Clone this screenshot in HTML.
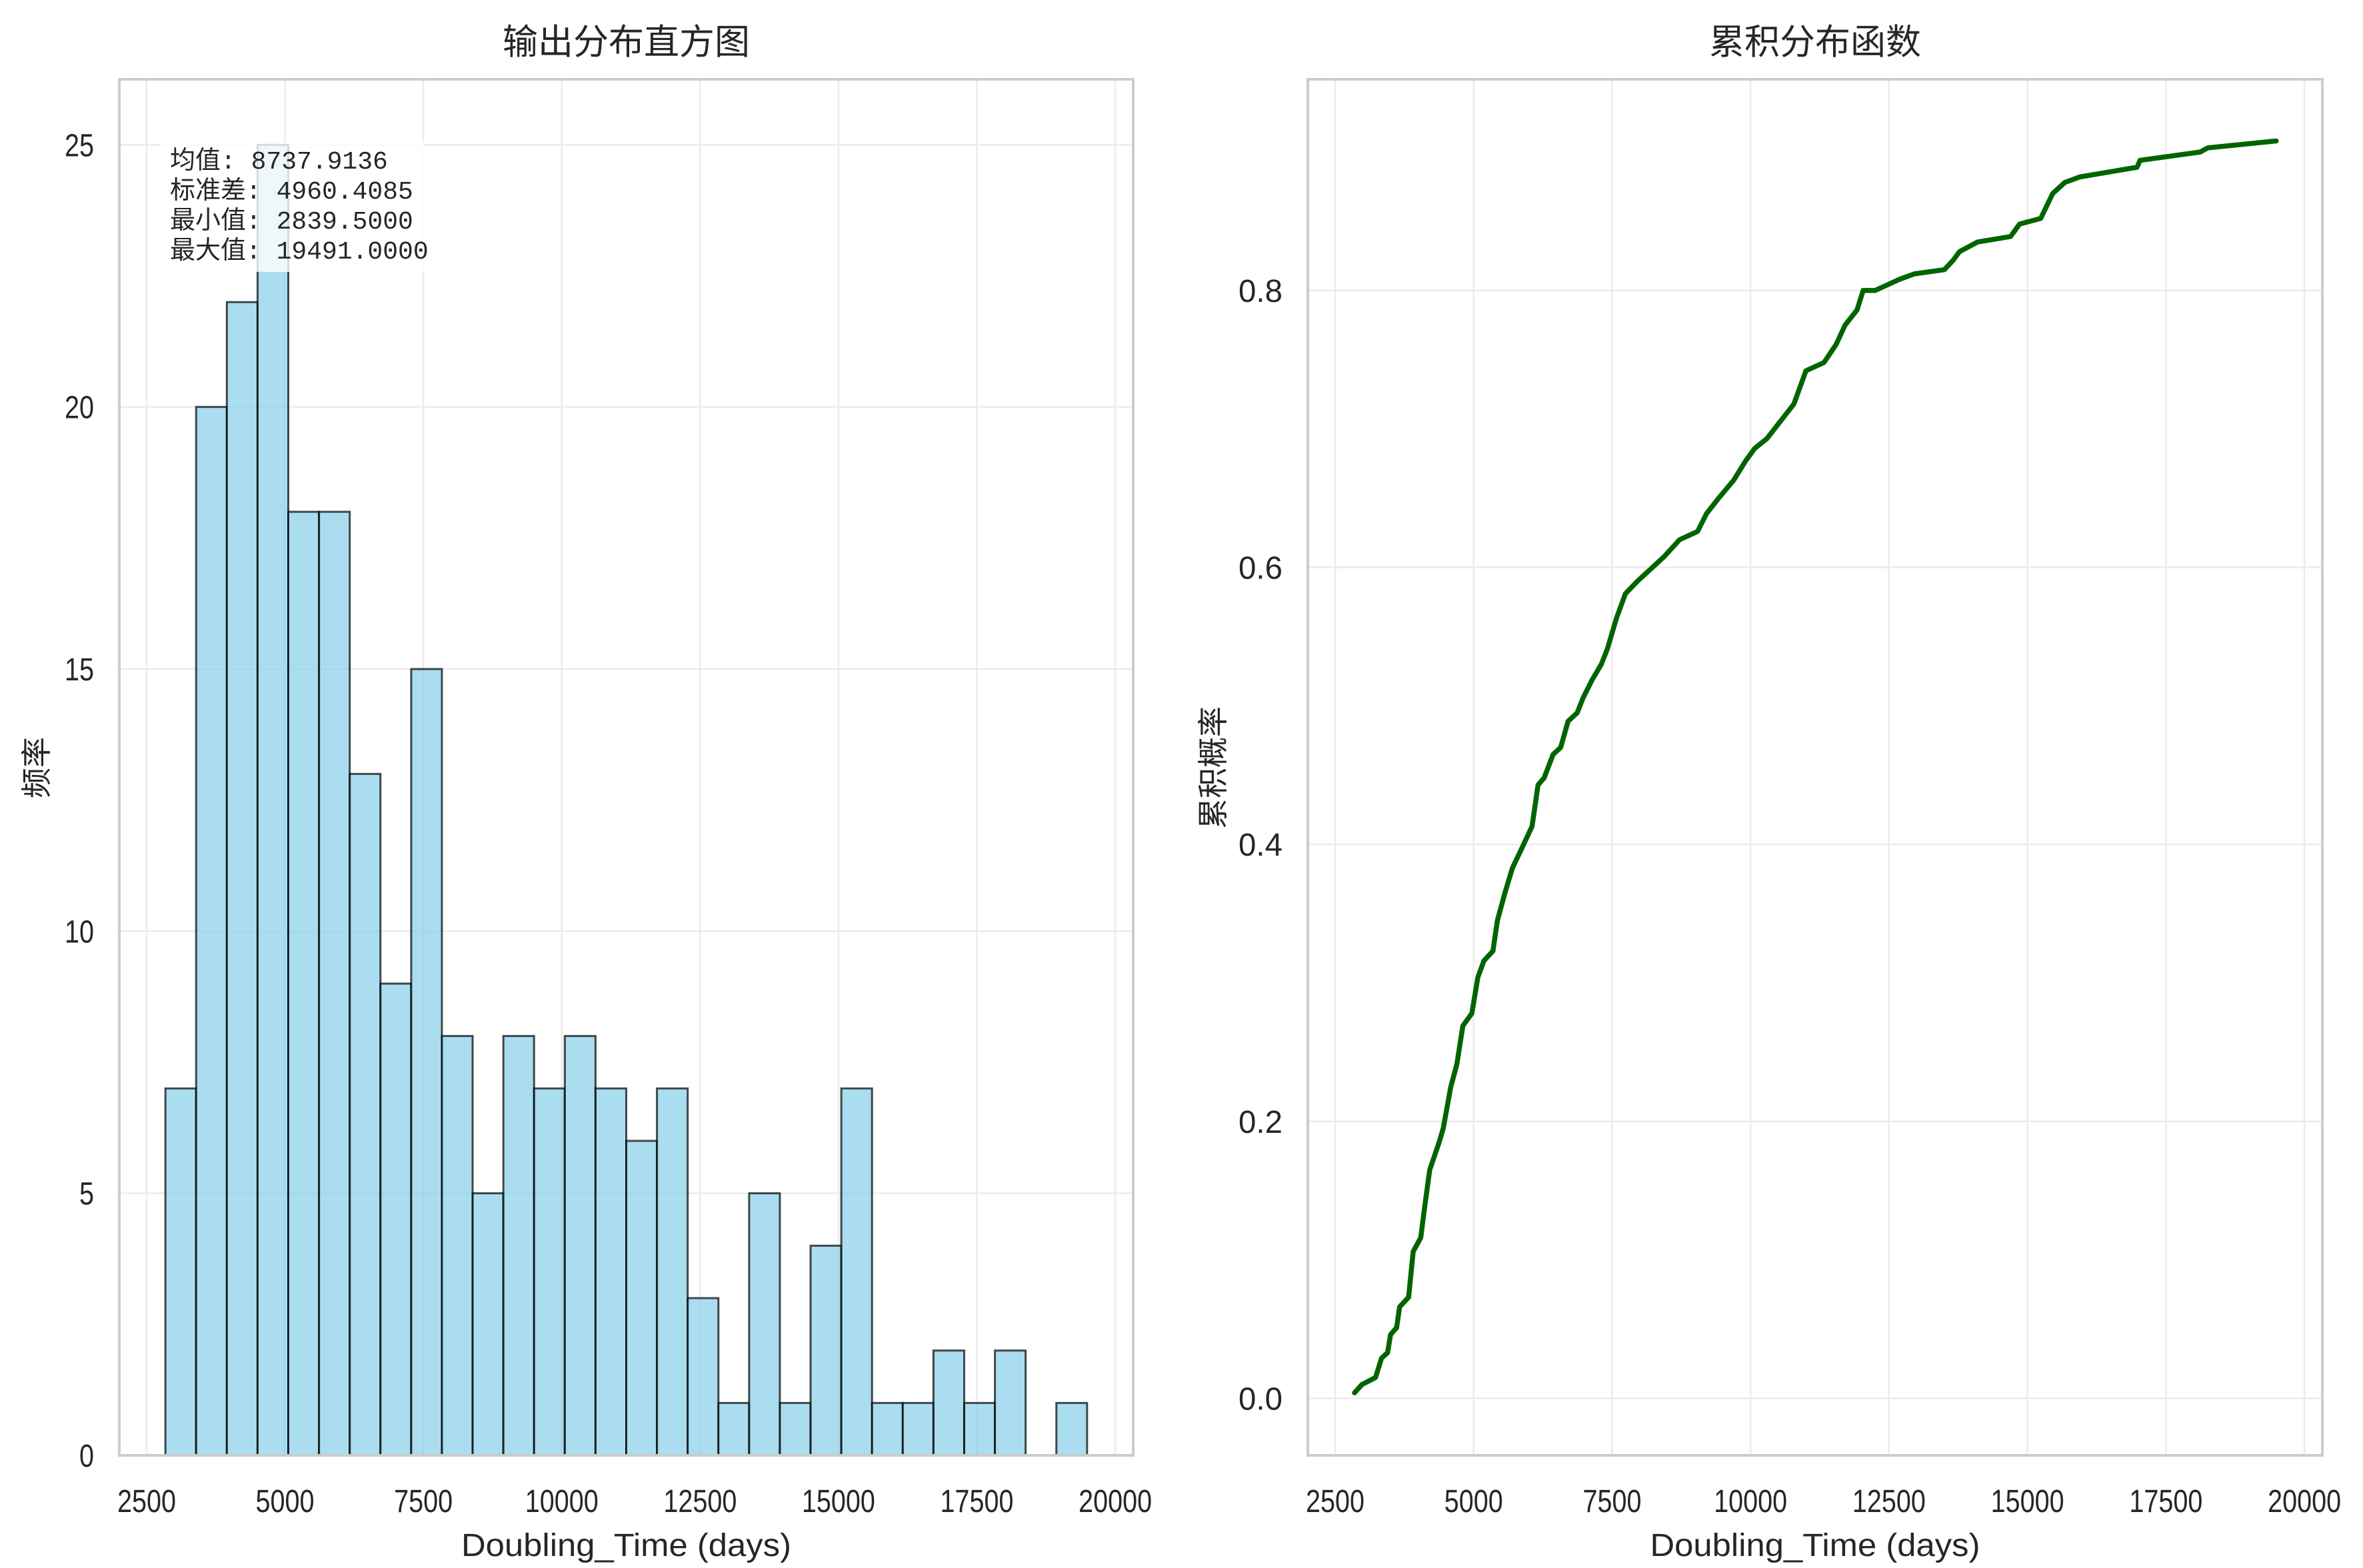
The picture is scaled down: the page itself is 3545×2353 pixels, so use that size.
<!DOCTYPE html>
<html><head><meta charset="utf-8"><style>
html,body{margin:0;padding:0;background:#fff;}
svg{display:block;}
text{fill:#262626;}
</style></head><body>
<svg id="chart" width="3545" height="2353" viewBox="0 0 3545 2353" xmlns="http://www.w3.org/2000/svg">
<rect x="0" y="0" width="3545" height="2353" fill="#fff"/>
<g id="left"></g>
<g id="right"></g>
</svg>
<script>
const histCounts = [7,20,22,25,18,18,13,9,15,8,5,8,7,8,7,6,7,3,1,5,1,4,7,1,1,2,1,2,0,1];
const dataMin = 2839.5;
const dataMax = 19491;
const histYTicks = [0,5,10,15,20,25];
const xTicks = [2500,5000,7500,10000,12500,15000,17500,20000];
const cdfX = [2849,2985,3230,3338,3447,3501,3610,3664,3827,3909,4045,4126,4208,4371,4452,4588,4697,4806,4969,5077,5186,5349,5430,5566,5702,5892,6055,6164,6273,6436,6572,6707,6870,6979,7142,7305,7414,7577,7740,7957,8229,8446,8718,9044,9207,9424,9696,9913,10076,10294,10783,11000,11326,11544,11707,11924,12033,12250,12685,12957,13500,13663,13772,14098,14695,14858,15239,15456,15674,15945,16978,17032,18119,18255,19491];
const cdfY = [0.004,0.010,0.015,0.029,0.033,0.046,0.051,0.066,0.073,0.106,0.116,0.141,0.165,0.184,0.195,0.225,0.241,0.269,0.278,0.304,0.316,0.323,0.345,0.365,0.383,0.399,0.413,0.443,0.448,0.465,0.470,0.489,0.495,0.506,0.519,0.530,0.541,0.563,0.581,0.590,0.600,0.608,0.620,0.626,0.639,0.650,0.663,0.677,0.686,0.693,0.718,0.742,0.748,0.761,0.775,0.786,0.800,0.800,0.808,0.812,0.815,0.822,0.828,0.835,0.839,0.848,0.852,0.870,0.878,0.882,0.889,0.894,0.900,0.903,0.908];
const cdfYTicks = [0.0,0.2,0.4,0.6,0.8];
const cdfYTickLabels = ["0.0","0.2","0.4","0.6","0.8"];
const statLines = ["均值: 8737.9136","标准差: 4960.4085","最小值: 2839.5000","最大值: 19491.0000"];

const NS="http://www.w3.org/2000/svg";
function mk(tag,attrs,parent){const e=document.createElementNS(NS,tag);for(const k in attrs)e.setAttribute(k,attrs[k]);parent.appendChild(e);return e;}
const axTop=119,axBot=2184;
const xPad=(dataMax-dataMin)*0.05;
const xLo=dataMin-xPad, xHi=dataMax+xPad;
function xs(x0,x1){return v=>x0+(v-xLo)/(xHi-xLo)*(x1-x0);}
const FONT='"Liberation Sans","Noto Sans CJK SC",sans-serif';
const CJK='"Noto Sans CJK SC","WenQuanYi Zen Hei",sans-serif';

function tickText(parent,x,y,str,anchor,name){
  const t=mk('text',{x:x,y:y,'font-family':FONT,'font-size':48,'text-anchor':anchor,textLength:str.length*22,lengthAdjust:'spacingAndGlyphs'},parent);
  
  
  t.textContent=str;return t;
}

function frame(g,x0,x1,yScale,yTicks,yLabels,xScale,title,ylabel,ylabX){
  xTicks.forEach(v=>{const l=mk('line',{x1:xScale(v),x2:xScale(v),y1:axTop,y2:axBot,stroke:'#ebebeb','stroke-width':2.5},g);
    
    });
  yTicks.forEach(v=>{const l=mk('line',{x1:x0,x2:x1,y1:yScale(v),y2:yScale(v),stroke:'#ebebeb','stroke-width':2.5},g);
    
    });
  xTicks.forEach(v=>{tickText(g,xScale(v),2269,String(v),'middle','x-tick-label');});
  yTicks.forEach((v,i)=>{tickText(g,x0-38,yScale(v)+17,yLabels[i],'end','y-tick-label');});
  const tt=mk('text',{x:(x0+x1)/2,y:81,'font-family':CJK,'font-size':53,'text-anchor':'middle'},g);
  
  
  tt.textContent=title;
  const xl=mk('text',{x:(x0+x1)/2,y:2335,'font-family':FONT,'font-size':48,'text-anchor':'middle',textLength:495,lengthAdjust:'spacingAndGlyphs'},g);
  
  
  xl.textContent='Doubling_Time (days)';
  const yl=mk('text',{x:ylabX,y:1152,'font-family':CJK,'font-size':46,'text-anchor':'middle',transform:`rotate(-90 ${ylabX} 1152)`,'dominant-baseline':'central'},g);
  
  
  yl.textContent=ylabel;
}
function spines(g,x0,x1){
  const r=mk('rect',{x:x0,y:axTop,width:x1-x0,height:axBot-axTop,fill:'none',stroke:'#cccccc','stroke-width':4},g);
  
  
}

(function(){
  const g=document.getElementById('left');
  const x0=179,x1=1700;
  const xS=xs(x0,x1);
  const yMax=Math.max(...histCounts)*1.05;
  const yS=v=>axBot-v/yMax*(axBot-axTop);
  frame(g,x0,x1,yS,histYTicks,histYTicks.map(String),xS,'输出分布直方图','频率',52);
  const bw=(dataMax-dataMin)/histCounts.length;
  histCounts.forEach((c,i)=>{
    const a=xS(dataMin+i*bw), b=xS(dataMin+(i+1)*bw);
    const r=mk('rect',{x:a,y:yS(c),width:b-a,height:yS(0)-yS(c),fill:'#87ceeb','fill-opacity':0.7,stroke:'#000','stroke-opacity':0.7,'stroke-width':3},g);
    
    
  });
  const box=mk('rect',{x:240,y:213,width:397,height:195,fill:'#fff','fill-opacity':0.8},g);
  
  
  statLines.forEach((s,i)=>{
    const t=mk('text',{x:255,y:253+i*45,'font-family':'"Liberation Mono","Noto Sans CJK SC",monospace','font-size':38},g);
    
    
    t.textContent=s;
  });
  spines(g,x0,x1);
})();

(function(){
  const g=document.getElementById('right');
  const x0=1962,x1=3484;
  const xS=xs(x0,x1);
  const yLo=-0.0412,yHi=0.9525;
  const yS=v=>axBot-(v-yLo)/(yHi-yLo)*(axBot-axTop);
  frame(g,x0,x1,yS,cdfYTicks,cdfYTickLabels,xS,'累积分布函数','累积概率',1817);
  const d=cdfX.map((x,i)=>(i?'L':'M')+xS(x).toFixed(1)+','+yS(cdfY[i]).toFixed(1)).join(' ');
  const p=mk('path',{d:d,fill:'none',stroke:'#006400','stroke-width':7.5,'stroke-linejoin':'round','stroke-linecap':'round'},g);
  
  
  spines(g,x0,x1);
})();
</script>
</body></html>
